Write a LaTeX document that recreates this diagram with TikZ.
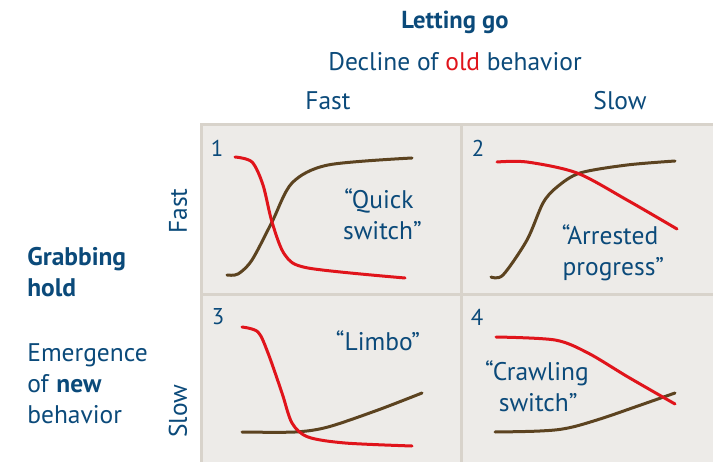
\documentclass[tikz,border=0pt]{standalone}
\usepackage{fontspec}
\setmainfont{PT Sans}
\usepackage{xcolor}

\definecolor{txtblue}{HTML}{0B4A7A}
\definecolor{oldred}{HTML}{E0141B}
\definecolor{newbrown}{HTML}{5C4320}
\definecolor{panelbg}{HTML}{EDEBE8}
\definecolor{panelline}{HTML}{D8D3CB}

\tikzset{
  lbl/.style={text=txtblue, inner sep=0pt, font=\fontsize{14.5}{17.6}\selectfont},
  num/.style={text=txtblue, inner sep=0pt, font=\fontsize{13}{15}\selectfont},
  oldcurve/.style={oldred, line width=0.06cm, line cap=round},
  newcurve/.style={newbrown, line width=0.06cm, line cap=round},
  gridline/.style={panelline, line width=0.06cm}
}

\begin{document}
\begin{tikzpicture}[x=0.02cm, y=-0.02cm]
        \useasboundingbox (0,0) rectangle (713,462);

        % Draw panels
        \fill[panelbg] (201,125) rectangle (713,462);
        \draw[gridline] (201,462) -- (201,125) -- (713,125);
        \draw[gridline] (461,125) -- (461,462);
        \draw[gridline] (201,295) -- (713,295);

        % Headings
        \node[lbl, font=\fontsize{14}{17}\selectfont\bfseries] (letgo) at (455,22) {Letting go};
        \node[lbl] (decline) at (455,62) {Decline of \textcolor{oldred}{old} behavior};
        \node[lbl] (colfast) at (328,101) {Fast};
        \node[lbl] (colslow) at (620,101) {Slow};
        \node[lbl, rotate=90] (rowfast) at (178,211) {Fast};
        \node[lbl, rotate=90] (rowslow) at (178,411) {Slow};
        \node[lbl, font=\fontsize{14.5}{17.6}\selectfont\bfseries, align=left, anchor=north west] (grab) at (27,247) {Grabbing\\hold};
        \node[lbl, align=left, anchor=north west] (emerge) at (27,343) {Emergence\\of \textbf{new}\\behavior};

        % Panel numbers
        \node[num] (n1) at (217,148) {1};
        \node[num] (n2) at (478,148) {2};
        \node[num] (n3) at (218,317) {3};
        \node[num] (n4) at (477,317) {4};

        % Panel labels
        \node[lbl, align=center] (quick) at (379,214) {“Quick\\\ switch”};
        \node[lbl, align=center] (arrest) at (610,253) {“Arrested\\\ progress”};
        \node[lbl] (limbo) at (378,341) {“Limbo”};
        \node[lbl, align=left] (crawl) at (537,386) {“Crawling\\\ \ switch”};

        % Draw the curves, panel 1
        \draw[newcurve] plot[smooth,tension=0.5] coordinates {(227,275) (238,274) (252,260) (272,222) (292,183) (328,165) (412,158)};
        \draw[oldcurve] plot[smooth,tension=0.5] coordinates {(235,157) (252,162) (263,185) (272,222) (285,255) (308,268) (405,278)};

        % Panel 2
        \draw[newcurve] plot[smooth,tension=0.5] coordinates {(491,277) (503,275) (527,240) (543,203) (557,187) (580,173) (627,165) (675,161)};
        \draw[oldcurve] plot[smooth,tension=0.5] coordinates {(497,162) (527,162) (577,173) (627,200) (677,229)};

        % Panel 3
        \draw[newcurve] plot[smooth,tension=0.5] coordinates {(242,432) (295,432) (328,427) (378,410) (422,393)};
        \draw[oldcurve] plot[smooth,tension=0.5] coordinates {(242,327) (258,332) (268,353) (282,393) (292,423) (308,437) (345,443) (412,446)};

        % Panel 4
        \draw[newcurve] plot[smooth,tension=0.6] coordinates {(495,432) (540,431) (568,428) (600,419) (635,407) (675,393)};
        \draw[oldcurve] plot[smooth,tension=0.5] coordinates {(496,337) (555,340) (588,353) (628,377) (675,404)};

\end{tikzpicture}
\end{document}
